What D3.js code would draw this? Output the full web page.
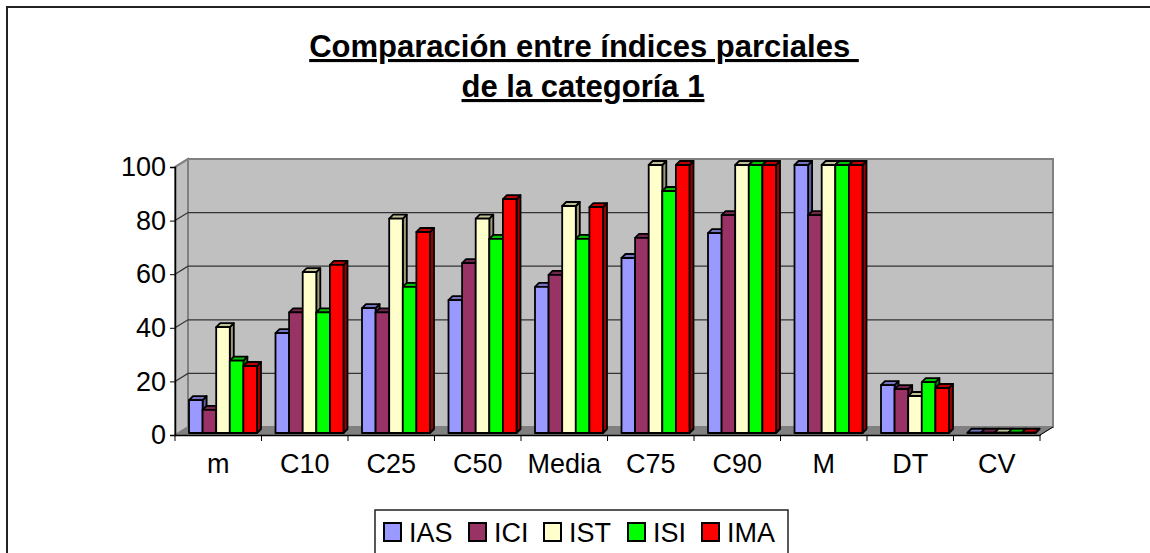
<!DOCTYPE html>
<html>
<head>
<meta charset="utf-8">
<script src="https://cdn.jsdelivr.net/npm/d3@7"></script>
<style>
  body { margin: 0; background: #fff; }
  svg { display: block; font-family: "Liberation Sans", Arial, sans-serif; }
</style>
</head>
<body>
<div id="chart"></div>
<script>
// data
const categories = ["m", "C10", "C25", "C50", "Media", "C75", "C90", "M", "DT", "CV"];
const seriesNames = ["IAS", "ICI", "IST", "ISI", "IMA"];
const IAS = [12.3, 37.3, 46.6, 49.6, 54.5, 65.3, 74.6, 100, 17.9, 0.1];
const ICI = [8.6, 45, 45, 63.4, 59, 72.8, 81.3, 81.3, 16.4, 0.1];
const IST = [39.5, 60, 80, 80, 84.7, 100, 100, 100, 13.8, 0.1];
const ISI = [27, 45, 54.5, 72.4, 72.4, 90.3, 100, 100, 19, 0.1];
const IMA = [25, 62.7, 75, 87.3, 84.3, 100, 100, 100, 16.8, 0.1];
const yTicks = [0, 20, 40, 60, 80, 100];
const colors = ["#9999ff", "#993366", "#ffffcc", "#00ff00", "#ff0000"];

const values = [IAS, ICI, IST, ISI, IMA];

const width = 1150, height = 553;
const depth = {x: 13, y: -8};   // wall / floor depth
const barDepth = {x: 4, y: -4};

const svg = d3.select("#chart").append("svg")
    .attr("width", width)
    .attr("height", height);

// outer border (only top and left are inside the picture)
svg.append("rect")
    .attr("x", 7).attr("y", 7)
    .attr("width", width + 20).attr("height", height + 20)
    .attr("fill", "#fff")
    .attr("stroke", "#222")
    .attr("stroke-width", 2);

// title
const title = svg.append("text")
    .attr("text-anchor", "middle")
    .attr("font-weight", "bold")
    .attr("font-size", 31)
    .attr("text-decoration", "underline");
title.append("tspan").attr("x", 584).attr("y", 57).text("Comparación entre índices parciales ");
title.append("tspan").attr("x", 583).attr("y", 97).text("de la categoría 1");

const x = d3.scaleBand().domain(categories).range([175, 1040]);
const y = d3.scaleLinear().domain([0, 100]).range([435, 167]);
const yBar = d3.scaleLinear().domain([0, 100]).range([433, 165]);
const inner = d3.scaleBand().domain(seriesNames).range([14, 82]);

const x0 = x.range()[0], x1 = x.range()[1];

// left wall
svg.append("path")
    .attr("d", `M${x0},${y(0)}L${x0},${y(100)}L${x0 + depth.x},${y(100) + depth.y}L${x0 + depth.x},${y(0) + depth.y}Z`)
    .attr("fill", "#c0c0c0")
    .attr("stroke", "#808080")
    .attr("stroke-width", 2);

// back wall
svg.append("rect")
    .attr("x", x0 + depth.x)
    .attr("y", y(100) + depth.y)
    .attr("width", x1 - x0)
    .attr("height", y(0) - y(100))
    .attr("fill", "#c0c0c0")
    .attr("stroke", "#808080")
    .attr("stroke-width", 2);

// floor
svg.append("path")
    .attr("d", `M${x0},${y(0)}L${x1},${y(0)}L${x1 + depth.x},${y(0) + depth.y}L${x0 + depth.x},${y(0) + depth.y}Z`)
    .attr("fill", "#808080")
    .attr("stroke", "#808080");

// gridlines
svg.append("g")
    .selectAll("path")
    .data(yTicks.filter(d => d > 0))
    .join("path")
    .attr("d", d => `M${x0},${y(d)}L${x0 + depth.x},${y(d) + depth.y}L${x1 + depth.x},${y(d) + depth.y}`)
    .attr("fill", "none")
    .attr("stroke", d => d === 100 ? "#808080" : "#333")
    .attr("stroke-width", d => d === 100 ? 2 : 1.2);

// bars
const bars = [];
categories.forEach((c, i) => {
    seriesNames.forEach((s, j) => {
        bars.push({cat: c, series: s, value: values[j][i], color: colors[j]});
    });
});

const bar = svg.append("g")
    .selectAll("g")
    .data(bars)
    .join("g")
    .attr("stroke", "#000")
    .attr("stroke-width", 1.8)
    .attr("stroke-linejoin", "round");

bar.each(function (d) {
    const g = d3.select(this);
    const bx = x(d.cat) + inner(d.series);
    const bw = inner.bandwidth();
    const top = yBar(d.value), bot = yBar(0);
    // side face
    g.append("path")
        .attr("d", `M${bx + bw},${bot}L${bx + bw},${top}L${bx + bw + barDepth.x},${top + barDepth.y}L${bx + bw + barDepth.x},${bot + barDepth.y}Z`)
        .attr("fill", d3.color(d.color).darker(1.4));
    // top face
    g.append("path")
        .attr("d", `M${bx},${top}L${bx + barDepth.x},${top + barDepth.y}L${bx + bw + barDepth.x},${top + barDepth.y}L${bx + bw},${top}Z`)
        .attr("fill", d3.color(d.color).darker(0.8));
    // front face
    g.append("rect")
        .attr("x", bx).attr("y", top)
        .attr("width", bw).attr("height", bot - top)
        .attr("fill", d.color);
});

// y axis
svg.append("g")
    .attr("transform", `translate(${x0},0)`)
    .call(d3.axisLeft(y).tickValues(yTicks).tickSize(5).tickPadding(4))
    .call(g => g.select(".domain").attr("stroke", "#000").attr("stroke-width", 1.5))
    .call(g => g.selectAll("line").attr("stroke", "#000"))
    .selectAll("text")
    .attr("font-family", "Liberation Sans, Arial, sans-serif")
    .attr("font-size", 27)
    .attr("fill", "#000");

// x axis
const xAxis = svg.append("g")
    .attr("transform", `translate(0,${y(0)})`)
    .call(d3.axisBottom(x).tickSize(0).tickPadding(19));
xAxis.select(".domain").attr("stroke", "#000").attr("stroke-width", 1.5);
xAxis.selectAll("text")
    .attr("font-family", "Liberation Sans, Arial, sans-serif")
    .attr("font-size", 27)
    .attr("fill", "#000");
xAxis.selectAll(".sep")
    .data(categories.map(c => x(c)).concat([x1]))
    .join("line")
    .attr("class", "sep")
    .attr("x1", d => d).attr("x2", d => d)
    .attr("y1", 0).attr("y2", 6)
    .attr("stroke", "#000");
svg.append("line")
    .attr("x1", x1).attr("y1", y(0))
    .attr("x2", x1 + depth.x).attr("y2", y(0) + depth.y)
    .attr("stroke", "#000");

// legend
const legend = svg.append("g");
legend.append("rect")
    .attr("x", 375).attr("y", 510)
    .attr("width", 413).attr("height", 60)
    .attr("fill", "#fff")
    .attr("stroke", "#222")
    .attr("stroke-width", 1.5);
const legendX = [384, 469, 544, 628, 702];
const item = legend.selectAll("g")
    .data(seriesNames)
    .join("g")
    .attr("transform", (d, i) => `translate(${legendX[i]},523)`);
item.append("rect")
    .attr("width", 17).attr("height", 18)
    .attr("fill", (d, i) => colors[i])
    .attr("stroke", "#000")
    .attr("stroke-width", 2);
item.append("text")
    .attr("x", 25).attr("y", 19)
    .attr("font-size", 27)
    .text(d => d);
</script>
</body>
</html>
